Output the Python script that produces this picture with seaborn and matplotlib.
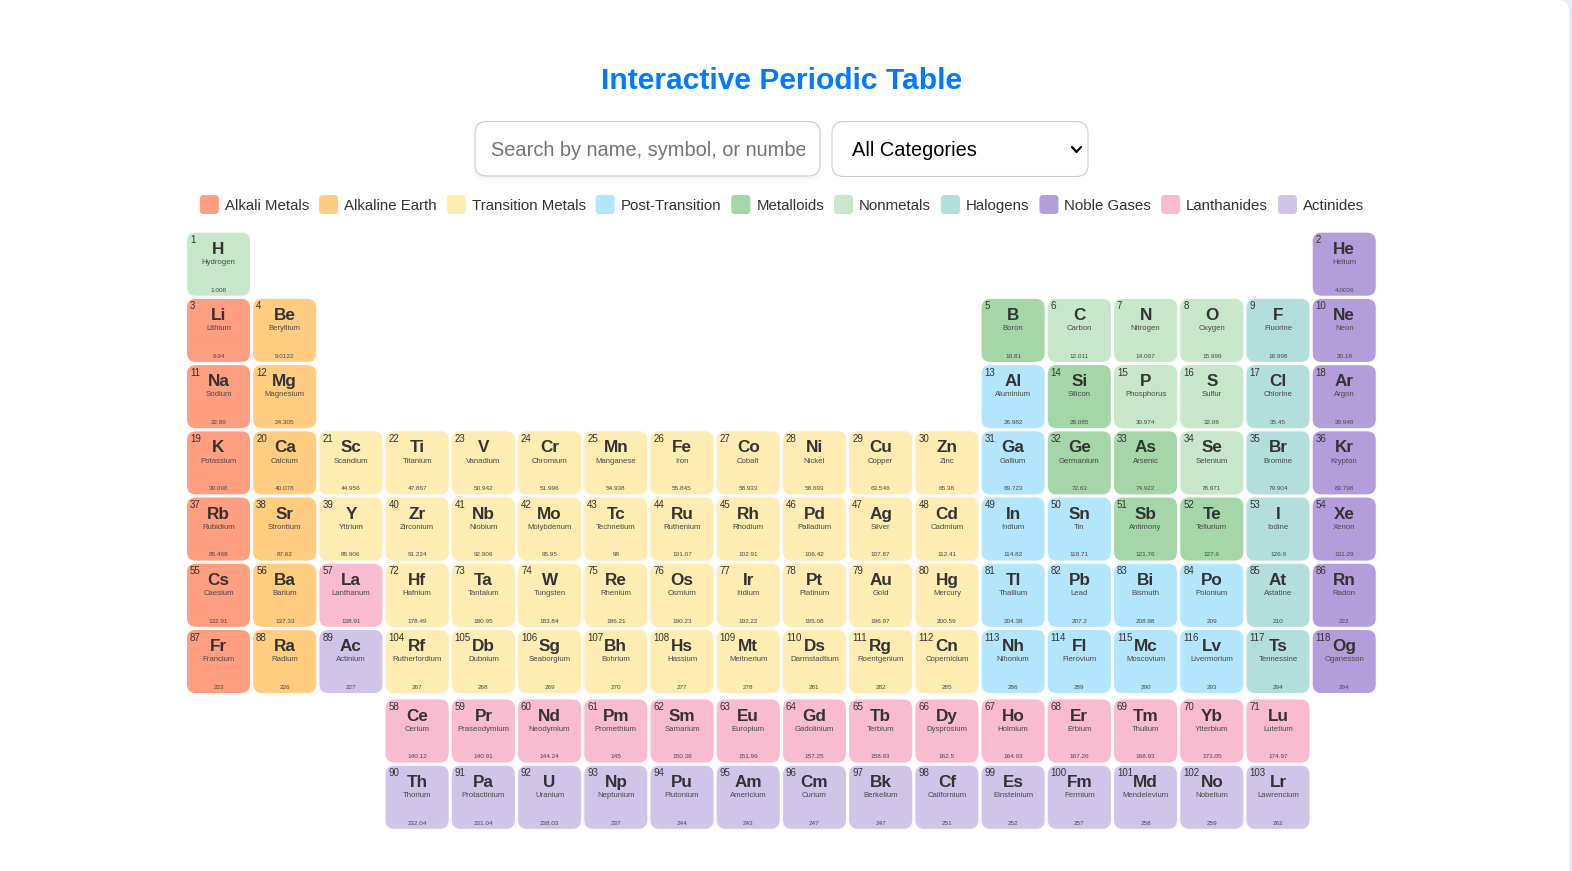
import matplotlib
matplotlib.use("Agg")
import matplotlib.pyplot as plt
from matplotlib.path import Path
from matplotlib.patches import FancyBboxPatch, Rectangle
import pandas as pd
import seaborn as sns

# ---------- data ----------
TITLE = "Interactive Periodic Table"
PLACEHOLDER = "Search by name, symbol, or number..."
SELECT_LABEL = "All Categories"

categories = ["Alkali Metals", "Alkaline Earth", "Transition Metals", "Post-Transition",
              "Metalloids", "Nonmetals", "Halogens", "Noble Gases", "Lanthanides", "Actinides"]
category_colors = ["#ff9e80", "#ffcc80", "#ffecb3", "#b3e5fc", "#a5d6a7",
                   "#c8e6c9", "#b2dfdb", "#b39ddb", "#f8bbd0", "#d1c4e9"]

symbols = ("H He Li Be B C N O F Ne Na Mg Al Si P S Cl Ar K Ca Sc Ti V Cr Mn Fe Co Ni Cu Zn Ga Ge As Se Br Kr "
           "Rb Sr Y Zr Nb Mo Tc Ru Rh Pd Ag Cd In Sn Sb Te I Xe Cs Ba La Ce Pr Nd Pm Sm Eu Gd Tb Dy Ho Er Tm Yb Lu "
           "Hf Ta W Re Os Ir Pt Au Hg Tl Pb Bi Po At Rn Fr Ra Ac Th Pa U Np Pu Am Cm Bk Cf Es Fm Md No Lr "
           "Rf Db Sg Bh Hs Mt Ds Rg Cn Nh Fl Mc Lv Ts Og").split()
names = ("Hydrogen Helium Lithium Beryllium Boron Carbon Nitrogen Oxygen Fluorine Neon Sodium Magnesium Aluminium "
         "Silicon Phosphorus Sulfur Chlorine Argon Potassium Calcium Scandium Titanium Vanadium Chromium Manganese "
         "Iron Cobalt Nickel Copper Zinc Gallium Germanium Arsenic Selenium Bromine Krypton Rubidium Strontium "
         "Yttrium Zirconium Niobium Molybdenum Technetium Ruthenium Rhodium Palladium Silver Cadmium Indium Tin "
         "Antimony Tellurium Iodine Xenon Caesium Barium Lanthanum Cerium Praseodymium Neodymium Promethium Samarium "
         "Europium Gadolinium Terbium Dysprosium Holmium Erbium Thulium Ytterbium Lutetium Hafnium Tantalum Tungsten "
         "Rhenium Osmium Iridium Platinum Gold Mercury Thallium Lead Bismuth Polonium Astatine Radon Francium Radium "
         "Actinium Thorium Protactinium Uranium Neptunium Plutonium Americium Curium Berkelium Californium Einsteinium "
         "Fermium Mendelevium Nobelium Lawrencium Rutherfordium Dubnium Seaborgium Bohrium Hassium Meitnerium "
         "Darmstadtium Roentgenium Copernicium Nihonium Flerovium Moscovium Livermorium Tennessine Oganesson").split()
weights = ("1.008 4.0026 6.94 9.0122 10.81 12.011 14.007 15.999 18.998 20.18 22.99 24.305 26.982 28.085 30.974 32.06 "
           "35.45 39.948 39.098 40.078 44.956 47.867 50.942 51.996 54.938 55.845 58.933 58.693 63.546 65.38 69.723 "
           "72.63 74.922 78.971 79.904 83.798 85.468 87.62 88.906 91.224 92.906 95.95 98 101.07 102.91 106.42 107.87 "
           "112.41 114.82 118.71 121.76 127.6 126.9 131.29 132.91 137.33 138.91 140.12 140.91 144.24 145 150.36 151.96 "
           "157.25 158.93 162.5 164.93 167.26 168.93 173.05 174.97 178.49 180.95 183.84 186.21 190.23 192.22 195.08 "
           "196.97 200.59 204.38 207.2 208.98 209 210 222 223 226 227 232.04 231.04 238.03 237 244 243 247 247 251 252 "
           "257 258 259 262 267 268 269 270 277 278 281 282 285 286 289 290 293 294 294").split()

alkali = "Li Na K Rb Cs Fr".split()
alkaline = "Be Mg Ca Sr Ba Ra".split()
post_transition = "Al Ga In Sn Tl Pb Bi Po Nh Fl Mc Lv".split()
metalloids = "B Si Ge As Sb Te".split()
nonmetals = "H C N O P S Se".split()
halogens = "F Cl Br I At Ts".split()
noble = "He Ne Ar Kr Xe Rn Og".split()
lanthanides = "La Ce Pr Nd Pm Sm Eu Gd Tb Dy Ho Er Tm Yb Lu".split()
actinides = "Ac Th Pa U Np Pu Am Cm Bk Cf Es Fm Md No Lr".split()

# table layout: period rows as (period, first atomic number, groups)
period_rows = [
    (1, 1, [1, 18]),
    (2, 3, [1, 2, 13, 14, 15, 16, 17, 18]),
    (3, 11, [1, 2, 13, 14, 15, 16, 17, 18]),
    (4, 19, list(range(1, 19))),
    (5, 37, list(range(1, 19))),
    (6, 55, [1, 2, 3]),
    (8, 58, list(range(4, 18))),
    (6, 72, list(range(4, 19))),
    (7, 87, [1, 2, 3]),
    (9, 90, list(range(4, 18))),
    (7, 104, list(range(4, 19))),
]

# ---------- build table ----------
pos = {}
for period, first, groups_ in period_rows:
    for i, g in enumerate(groups_):
        pos[first + i] = (g, period)


def category_of(sym):
    for cat, members in zip(categories, [alkali, alkaline, None, post_transition, metalloids, nonmetals,
                                         halogens, noble, lanthanides, actinides]):
        if members and sym in members:
            return cat
    return "Transition Metals"


df = pd.DataFrame({
    "number": range(1, len(symbols) + 1),
    "symbol": symbols, "name": names, "weight": weights,
    "category": [category_of(s) for s in symbols],
})
df["group"] = [pos[n][0] for n in df["number"]]
df["period"] = [pos[n][1] for n in df["number"]]
# f-block rows sit slightly below the main table
df["row"] = df["period"].map(lambda p: p + 0.05 if p >= 8 else p)

# ---------- figure ----------
W, H = 1572, 871
sns.set_theme(style="white")
plt.rcParams["font.family"] = ["Liberation Sans", "DejaVu Sans"]
fig = plt.figure(figsize=(W / 100, H / 100), dpi=100, facecolor="#e4eefb")

page = fig.add_axes([0, 0, 1, 1])
page.set_xlim(0, W)
page.set_ylim(H, 0)
page.axis("off")


def rbox(x0, y0, x1, y1, r, fc, ec="none", lw=0, alpha=None, z=1):
    p = FancyBboxPatch((x0, y0), x1 - x0, y1 - y0, boxstyle=f"round,pad=0,rounding_size={r}",
                       fc=fc, ec=ec, lw=lw, alpha=alpha, zorder=z)
    page.add_patch(p)
    return p


# card
rbox(-30, 0, 1569, H + 30, 11, "white", z=0.5)

# title
page.text(782, 81, TITLE, ha="center", va="center", fontsize=21.6, fontweight="bold", color="#007bff")

# search box with shadow
for grow, a in [(3, 0.008), (2, 0.012), (1, 0.02)]:
    rbox(475 - grow, 121.5 - grow + 2, 820 + grow, 176 + grow + 2, 12, "black", alpha=a, z=1)
rbox(475, 121.5, 820, 176, 12, "white", ec="#cccccc", lw=0.8, z=2)
ph = page.text(491, 151, PLACEHOLDER, ha="left", va="center", fontsize=14.4, color="#757575", zorder=3, clip_on=True)
ph.set_clip_path(Rectangle((475, 121), 330, 56, transform=page.transData))

# select
rbox(832, 121.5, 1088, 176.5, 12, "white", ec="#cccccc", lw=0.8, z=2)
page.text(852.5, 150.5, SELECT_LABEL, ha="left", va="center", fontsize=14.4, color="black", zorder=3)
page.plot([1072, 1076.5, 1081], [147, 152, 147], color="black", lw=1.6, solid_capstyle="round", zorder=3)

# rounded-square marker for cells and swatches


def rounded_square(r=0.115, half=0.5):
    k = half - r
    v = [(-k, -half), (k, -half), (half, -half), (half, -k), (half, k), (half, half),
         (k, half), (-k, half), (-half, half), (-half, k), (-half, -k), (-half, -half), (-k, -half)]
    c = [Path.MOVETO, Path.LINETO, Path.CURVE3, Path.CURVE3, Path.LINETO, Path.CURVE3, Path.CURVE3,
         Path.LINETO, Path.CURVE3, Path.CURVE3, Path.LINETO, Path.CURVE3, Path.CURVE3]
    return Path(v + [v[0]], c + [Path.CLOSEPOLY])


palette = dict(zip(categories, category_colors))

# legend: centred flex row, widths measured from the text
renderer = fig.canvas.get_renderer()
SW, TGAP, IGAP = 19, 6, 10
legend_fs = 10.8
widths = []
for c in categories:
    t = page.text(0, 0, c, fontsize=legend_fs)
    widths.append(t.get_window_extent(renderer).width)
    t.remove()
total = sum(widths) + len(categories) * (SW + TGAP) + (len(categories) - 1) * IGAP
x = 782 - total / 2
leg_x = []
for c, w in zip(categories, widths):
    leg_x.append(x + SW / 2)
    page.text(x + SW + TGAP, 205.5, c, fontsize=legend_fs, color="#333333", va="center", ha="left")
    x += SW + TGAP + w + IGAP
leg = pd.DataFrame({"x": leg_x, "y": [204.5] * len(categories), "category": categories})
sns.scatterplot(data=leg, x="x", y="y", hue="category", palette=palette, ax=page, legend=False,
                marker=rounded_square(0.2), s=(19 * 0.72) ** 2, linewidth=0, zorder=3)
page.set_xlim(0, W)
page.set_ylim(H, 0)
page.axis("off")

# ---------- table axes ----------
PITCH = 66.22
col1_center, row1_center = 218.5, 264.2
ax = fig.add_axes([(col1_center - PITCH * 0.5) / W, 1 - (row1_center + PITCH * 8.6) / H,
                   PITCH * 18 / W, PITCH * 9.1 / H], facecolor="none", zorder=2)
ax.set_xlim(0.5, 18.5)
ax.set_ylim(9.6, 0.5)

CELL_PT = 63 * 0.72
marker = rounded_square(0.14)
# soft shadow under each tile
ax.scatter(df["group"], df["row"], s=(CELL_PT + 2.5) ** 2, marker=rounded_square(0.16), c="black",
           alpha=0.015, linewidths=0, zorder=1)
sns.scatterplot(data=df, x="group", y="row", hue="category", palette=palette, hue_order=categories,
                ax=ax, legend=False, marker=marker, s=CELL_PT ** 2, linewidth=0, zorder=2)
ax.set_xlim(0.5, 18.5)
ax.set_ylim(9.6, 0.5)
ax.axis("off")

px = 0.72
for r in df.itertuples():
    xy = (r.group, r.row)
    ax.annotate(str(r.number), xy, xytext=(-28.6 * px, 24.0 * px), textcoords="offset points",
                ha="left", va="center", fontsize=7.0, color="#333333", zorder=3)
    ax.annotate(r.symbol, xy, xytext=(0, 15.0 * px), textcoords="offset points",
                ha="center", va="center", fontsize=12.3, fontweight="bold", color="#333333", zorder=3)
    ax.annotate(r.name, xy, xytext=(0, 1.7 * px), textcoords="offset points",
                ha="center", va="center", fontsize=5.6, color="#484848", zorder=3)
    ax.annotate(r.weight, xy, xytext=(0, -25.8 * px), textcoords="offset points",
                ha="center", va="center", fontsize=4.6, color="#484848", zorder=3)

fig.savefig("out.png", dpi=100, facecolor=fig.get_facecolor())
